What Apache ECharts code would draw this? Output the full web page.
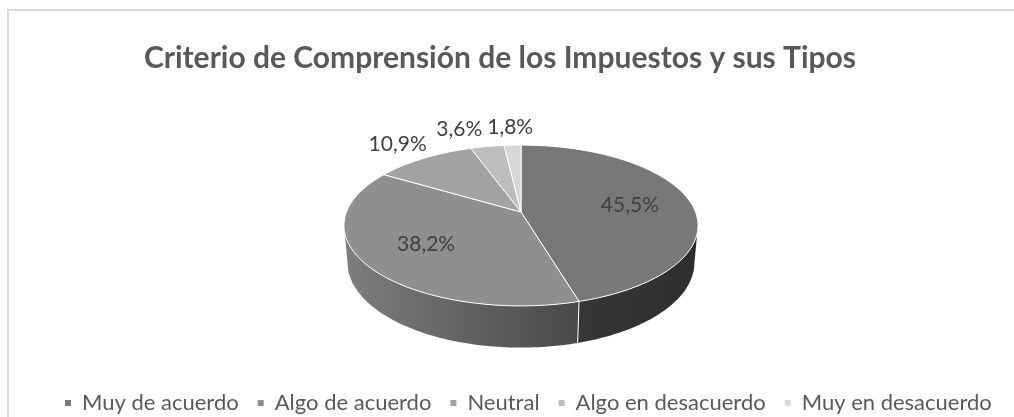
<!DOCTYPE html>
<html><head><meta charset="utf-8">
<script src="https://cdn.jsdelivr.net/npm/echarts/dist/echarts.min.js"></script>
<style>html,body{margin:0;padding:0;background:#fff}#c{width:1014px;height:417px}</style>
</head><body><div id="c"></div>
<script>
// ---- data ----
const chartTitle = 'Criterio de Comprensión de los Impuestos y sus Tipos';
const categories = ['Muy de acuerdo', 'Algo de acuerdo', 'Neutral', 'Algo en desacuerdo', 'Muy en desacuerdo'];
const values = [45.5, 38.2, 10.9, 3.6, 1.8];

// ---- styles ----
const topColors = ['#787878', '#8f8f8f', '#a2a2a2', '#bdbdbd', '#d7d7d7'];
const wallColors = [['#464646', '#2e2e2e'], ['#7e7e7e', '#2e2e2e'], ['#8f8f8f', '#444444'], ['#aaaaaa', '#555555'], ['#c4c4c4', '#666666']];
const FONT = 'Lato';
const G = { cx: 521, cy: 212, R: 174.5, elev: 26.6 * Math.PI / 180, D: 5.33, h: 0.24, inR: 0.64, outGap: 8, labelPad: 5 };
const LABEL_SIZE = 21;

const total = values.reduce((a, b) => a + b, 0);
const cum = [0];
values.forEach((v, i) => cum.push(cum[i] + v));
const TAU = Math.PI * 2;
const sinA = Math.sin(G.elev), cosA = Math.cos(G.elev), F = G.R * G.D;
function proj(theta, Y, r) {
  r = r == null ? 1 : r;
  const X = r * Math.sin(theta), Z = r * Math.cos(theta);
  const yc = Y * cosA + Z * sinA;
  const dc = G.D + Z * cosA - Y * sinA;
  return [G.cx + F * X / dc, G.cy - F * yc / dc];
}
const ts = Math.acos(-cosA / G.D); // silhouette angle
const xLeft = proj(TAU - ts, 0)[0], xRight = proj(ts, 0)[0];
const fmt = v => v.toFixed(1).replace('.', ',') + '%';
const measureCtx = document.createElement('canvas').getContext('2d');
const labelFont = LABEL_SIZE + 'px ' + FONT;

// label layout (inside for big slices, outside with simple overlap avoidance for small ones)
function layoutLabels() {
  measureCtx.font = labelFont;
  const out = [];
  for (let i = values.length - 1; i >= 0; i--) {
    const a0 = TAU * cum[i] / total, a1 = TAU * cum[i + 1] / total, mid = (a0 + a1) / 2;
    const text = fmt(values[i] / total * 100);
    const hw = measureCtx.measureText(text).width / 2, hh = LABEL_SIZE / 2;
    let x, y;
    if (values[i] / total >= 0.15) {
      [x, y] = proj(mid, 0, G.inR);
    } else {
      const e = proj(mid, 0, 1), c = proj(0, 0, 0);
      let dx = e[0] - c[0], dy = e[1] - c[1];
      const len = Math.hypot(dx, dy); dx /= len; dy /= len;
      const reach = Math.min(Math.abs(dx) > 1e-6 ? hw / Math.abs(dx) : 1e9, Math.abs(dy) > 1e-6 ? hh / Math.abs(dy) : 1e9);
      x = e[0] + dx * (G.outGap + reach);
      y = e[1] + dy * (G.outGap + reach);
      const prev = out[i + 1];
      if (prev && prev.outside && Math.abs(prev.y - y) < hh + prev.hh) {
        const minDist = hw + prev.hw + G.labelPad;
        if (Math.abs(prev.x - x) < minDist) x = dx < 0 ? prev.x - minDist : prev.x + minDist;
      }
    }
    out[i] = { x: x, y: y, text: text, hw: hw, hh: hh, outside: values[i] / total < 0.15 };
  }
  return out;
}
const labels = layoutLabels();

function arcPts(a, b, Y, n) {
  const pts = [];
  for (let k = 0; k <= n; k++) pts.push(proj(a + (b - a) * k / n, Y));
  return pts;
}

function renderItem(params, api) {
  const i = params.seriesIndex;
  const a0 = TAU * cum[i] / total, a1 = TAU * cum[i + 1] / total;
  const children = [];
  // outer wall (front-facing part)
  const lo = Math.max(a0, ts), hi = Math.min(a1, TAU - ts);
  if (hi > lo) {
    const n = Math.max(4, Math.ceil((hi - lo) / 0.02));
    const pts = arcPts(lo, hi, 0, n).concat(arcPts(hi, lo, -G.h, n));
    children.push({
      type: 'polygon', shape: { points: pts }, silent: true,
      style: {
        fill: new echarts.graphic.LinearGradient(xLeft, 0, xRight, 0,
          [{ offset: 0, color: wallColors[i][0] }, { offset: 1, color: wallColors[i][1] }], true),
        stroke: null
      }
    });
  }
  if (a0 > ts && a0 < TAU - ts) {
    const p1 = proj(a0, 0), p2 = proj(a0, -G.h);
    children.push({ type: 'line', silent: true, shape: { x1: p1[0], y1: p1[1], x2: p2[0], y2: p2[1] }, style: { stroke: '#ffffff', lineWidth: 1 } });
  }
  // top face
  const n2 = Math.max(4, Math.ceil((a1 - a0) / 0.02));
  const topPts = [proj(0, 0, 0)].concat(arcPts(a0, a1, 0, n2));
  children.push({ type: 'polygon', shape: { points: topPts }, silent: true, style: { fill: topColors[i], stroke: '#ffffff', lineWidth: 1, lineJoin: 'round' } });
  // label
  const L = labels[i];
  children.push({ type: 'text', x: L.x, y: L.y, z2: 100, silent: true, style: { text: L.text, fill: '#404040', font: labelFont, align: 'center', verticalAlign: 'middle' } });
  return { type: 'group', children: children };
}

const chart = echarts.init(document.getElementById('c'), null, { renderer: 'canvas' });
chart.setOption({
  animation: false,
  backgroundColor: '#ffffff',
  graphic: [
    { type: 'rect', silent: true, shape: { x: 8, y: 10, width: 1030, height: 440 }, style: { fill: 'none', stroke: '#d9d9d9', lineWidth: 2 } },
    { type: 'text', silent: true, x: 500, y: 58, style: { text: chartTitle, fill: '#595959', font: 'bold 30px ' + FONT, align: 'center', verticalAlign: 'middle' } }
  ],
  legend: {
    data: categories, left: 60, top: 387, icon: 'rect', itemWidth: 6, itemHeight: 6, itemGap: 19,
    selectedMode: false,
    textStyle: { fontFamily: FONT, fontSize: 22, color: '#595959', padding: [0, 0, 0, 6] }
  },
  series: categories.map((name, i) => ({
    type: 'custom', name: name, coordinateSystem: 'none', z: 2 + i,
    itemStyle: { color: topColors[i] },
    renderItem: renderItem,
    data: [[values[i]]]
  }))
});
</script></body></html>
